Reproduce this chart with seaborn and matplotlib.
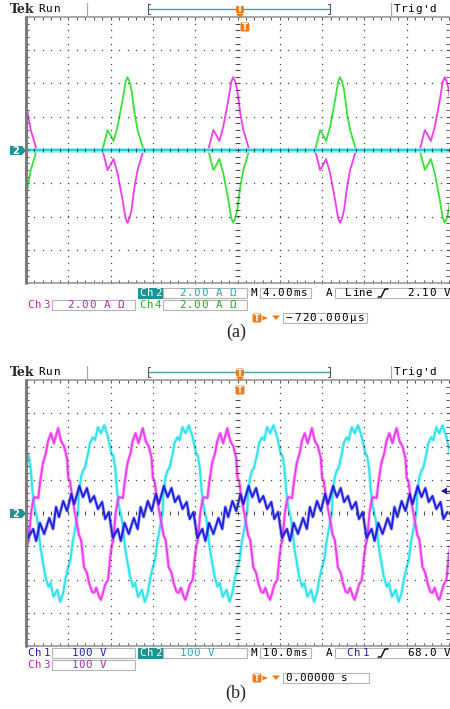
import numpy as np
import pandas as pd
import matplotlib
matplotlib.use("Agg")
import matplotlib.pyplot as plt
import seaborn as sns
from matplotlib.patches import Rectangle, Polygon, FancyBboxPatch

W, H = 450, 709

# ---------------- panel (a): 4.00 ms/div, 2.00 A/div ----------------
a_ms_div, a_amp_div = 4.0, 2.0
# one current pulse (ms from its peak, A)
pulse_dt = [-2.37, -2.08, -1.89, -1.61, -1.32, -0.95, -0.47, -0.19, 0.0, 0.19, 0.38, 0.66, 0.95, 1.32, 1.51]
pulse_amp = [0.0, 0.72, 1.2, 0.9, 0.54, 1.38, 3.0, 4.1, 4.38, 4.1, 3.6, 2.22, 1.2, 0.42, 0.0]
# peak times (ms from the left edge of the screen)
ch4_pos_peaks = [9.6, 29.7]
ch4_neg_peaks = [-0.5, 19.6, 39.6]
ch3_pos_peaks = [-0.5, 19.6, 39.6]
ch3_neg_peaks = [9.6, 29.7]
ch2_a_t = [0.0, 40.0]
ch2_a_i = [0.0, 0.0]

# ---------------- panel (b): 10.0 ms/div, 100 V/div ----------------
b_ms_div, b_volt_div = 10.0, 100.0
# one 20 ms cycle of each trace (ms from cycle start, V)
ch3_cycle_t = [0.0, 0.5, 0.9, 1.7, 2.1, 2.8, 3.5, 4.0, 4.7, 5.4, 6.4, 7.1, 7.8, 8.5, 8.8, 9.2, 9.7, 10.4,
               10.9, 11.3, 11.8, 12.3, 12.5, 13.2, 13.7, 14.4, 14.9, 15.4, 16.1, 16.5, 17.0, 17.5, 18.2, 18.7, 19.1, 19.4]
ch3_cycle_v = [0, 39, 48, 45, 90, 150, 180, 216, 240, 210, 255, 216, 201, 165, 105, 96, 48, 0,
               -36, -66, -81, -135, -162, -180, -210, -237, -240, -225, -252, -261, -240, -216, -201, -135, -96, -84]
ch3_cycle_starts = [-18.8, 1.2, 21.2, 41.2, 61.2, 81.2]

ch2_cycle_t = [0.0, 0.2, 0.7, 1.2, 1.6, 2.4, 2.8, 3.5, 4.0, 4.7, 5.4, 6.2, 7.1, 7.6, 8.0, 8.3, 8.8,
               9.2, 9.7, 10.4, 11.1, 11.6, 12.3, 13.0, 13.5, 14.2, 15.1, 15.8, 16.5, 17.0, 17.7, 18.2, 18.7, 19.4]
ch2_cycle_v = [0, 60, 108, 129, 135, 180, 210, 228, 219, 258, 240, 264, 228, 198, 174, 174, 135,
               69, 18, -21, -102, -141, -192, -222, -210, -252, -231, -267, -240, -201, -162, -141, -90, -42]
ch2_cycle_starts = [-7.7, 12.3, 32.3, 52.3, 72.3, 92.3]

ch1_cycle_t = [0.0, 1.2, 1.9, 2.8, 3.8, 5.0, 5.9, 6.6, 7.3, 8.3, 9.2, 10.2, 10.9, 12.1, 13.0, 13.9,
               14.7, 15.6, 16.5, 17.5, 18.2, 19.1]
ch1_cycle_v = [-75, -48, -84, -30, -63, -15, -48, 18, -12, 36, 6, 57, 27, 81, 48, 75, 33, 51, 12, 33, -18, 3]
ch1_cycle_starts = [-19.5, 0.5, 20.5, 40.5, 60.5, 80.5]

# ---------------- colours ----------------
C_CH1, C_CH2, C_CH3, C_CH4 = "#2020e0", "#30e4ee", "#f03cf0", "#38e238"
T_CH1, T_CH2, T_CH3, T_CH4 = "#2323a8", "#22aab4", "#b02cb0", "#2aa82a"
TEAL = "#1c9494"
ORANGE = "#f07c1c"
DOT = "#4a4a4a"
MONO = "DejaVu Sans Mono"


def pulse_train(pos_peaks, neg_peaks):
    rows = []
    for p in pos_peaks:
        rows += [(p + dt, a) for dt, a in zip(pulse_dt, pulse_amp)]
    for p in neg_peaks:
        rows += [(p + dt, -a) for dt, a in zip(pulse_dt, pulse_amp)]
    return pd.DataFrame(rows, columns=["t", "y"]).sort_values("t")


def cycle_train(cyc_t, cyc_v, starts):
    rows = [(s + t, v) for s in starts for t, v in zip(cyc_t, cyc_v)]
    return pd.DataFrame(rows, columns=["t", "y"])


def trace(ax, df, color, lw, z, alpha=1.0):
    sns.lineplot(data=df, x="t", y="y", ax=ax, color=color, linewidth=lw, estimator=None, alpha=alpha,
                 sort=False, legend=False, zorder=z, solid_joinstyle="round")


def graticule(ax, xd, yd):
    ax.set_xlim(0, 10 * xd)
    ax.set_ylim(-4 * yd, 4 * yd)
    ax.set_axis_off()
    fx = np.arange(0, 10.001, 0.2) * xd
    fy = np.arange(-4, 4.001, 0.2) * yd
    dot = dict(ls="none", marker="s", ms=0.9, mew=0, color=DOT, zorder=6, clip_on=False)
    for gx in range(1, 10):
        ax.plot(np.full_like(fy, gx * xd), fy, **dot)
    for gy in range(-3, 4):
        ax.plot(fx, np.full_like(fx, gy * yd), **dot)
    tk = dict(color=DOT, lw=0.7, zorder=6, clip_on=False)
    ax.vlines(fx, -0.06 * yd, 0.06 * yd, **tk)
    ax.hlines(fy, 4.95 * xd, 5.05 * xd, **tk)
    ax.vlines(fx, 3.9 * yd, 4 * yd, **tk)
    ax.vlines(fx, -4 * yd, -3.9 * yd, **tk)
    ax.hlines(fy, 0, 0.08 * xd, **tk)
    ax.hlines(fy, 9.93 * xd, 10 * xd, **tk)
    ax.plot([0, 10 * xd], [4 * yd, 4 * yd], color="#a0a0a0", lw=1.3, zorder=6, clip_on=False)
    ax.plot([0, 10 * xd], [-4 * yd, -4 * yd], color="#a0a0a0", lw=1.3, zorder=6, clip_on=False)
    ax.plot([0, 0], [-4 * yd, 4 * yd], color="#7c7c7c", lw=2.2, zorder=7, clip_on=False)


def px_axes(left, top, right, bottom):
    return fig.add_axes([left / W, 1 - bottom / H, (right - left) / W, (bottom - top) / H])


def scope_text(ax, x, y, s, color="black", size=7.8, cell=7.2, ha="left", z=5):
    # the scope readout font is close to fixed pitch: one cell per character
    if ha == "center":
        x -= cell * len(s) / 2
    for i, c in enumerate(s):
        if c != " ":
            ax.text(x + i * cell + cell / 2, y, c, color=color, family=MONO, fontsize=size,
                    va="center", ha="center", zorder=z)


def box(x0, x1, yc, h=10, fc="white", ec="#b4b4b4"):
    ov.add_patch(Rectangle((x0, yc - h / 2), x1 - x0, h, fc=fc, ec=ec, lw=0.8, zorder=2))


def t_icon(ax, xc, yc, s=8.5):
    ax.add_patch(FancyBboxPatch((xc - s / 2, yc - s / 2), s, s, boxstyle="round,pad=0,rounding_size=1.8",
                                fc=ORANGE, ec="none", zorder=8))
    ax.text(xc, yc + 0.5, "T", color="white", fontsize=6, fontweight="bold", ha="center", va="center", zorder=9)


def slope(x, yc):
    ov.plot([x, x + 3, x + 7, x + 10], [yc + 4, yc + 4, yc - 4, yc - 4], color="black", lw=1.0, zorder=5)


def header(dy):
    ov.text(10, 9.5 + dy, "Tek", fontsize=9, fontweight="bold", family="DejaVu Serif", va="center")
    scope_text(ov, 37, 9 + dy, "Run", size=8, cell=8.3)
    for x in (87, 391):
        ov.plot([x, x], [3 + dy, 15 + dy], color="#a8a8a8", lw=0.9)
    ov.plot([149, 329], [9 + dy, 9 + dy], color="#4f9c9c", lw=1.0)
    for x, s in ((148, 1), (330, -1)):
        ov.plot([x + 2 * s, x, x, x + 2 * s], [4 + dy, 4 + dy, 14 + dy, 14 + dy], color="#555555", lw=0.8)
    scope_text(ov, 394, 9 + dy, "Trig'd", size=8, cell=7.0)
    t_icon(top, 240, 9.5 + dy, 8)
    top.add_patch(Polygon([(236, 14 + dy), (244, 14 + dy), (240, 18.5 + dy)], fc=ORANGE, ec="none", zorder=8))


def ch_marker(y):
    top.add_patch(Polygon([(10, y - 4.5), (22, y - 4.5), (26, y), (22, y + 4.5), (10, y + 4.5)],
                          fc=TEAL, ec="none", zorder=8))
    top.text(16, y + 0.3, "2", color="white", fontsize=7, fontweight="bold", ha="center", va="center", zorder=9)


def ch2_highlight(yc):
    box(138, 163, yc, fc=TEAL, ec=TEAL)
    scope_text(ov, 150.5, yc, "Ch2", color="white", ha="center", cell=7.8)


def trigger_row(yc, s, x1, cell):
    t_icon(ov, 257, yc, 9)
    ov.annotate("", xy=(270, yc), xytext=(263, yc),
                arrowprops=dict(arrowstyle="-|>", color=ORANGE, lw=0.9, mutation_scale=5), zorder=5)
    ov.add_patch(Polygon([(272, yc - 2.5), (280, yc - 2.5), (276, yc + 2)], fc=ORANGE, ec="none", zorder=5))
    box(283, x1, yc)
    scope_text(ov, 285, yc, s, cell=cell)


sns.set_style("white")
plt.rcParams["font.family"] = ["DejaVu Sans"]

fig = plt.figure(figsize=(W / 100, H / 100), dpi=100)
ov = fig.add_axes([0, 0, 1, 1])
ov.set_xlim(0, W)
ov.set_ylim(H, 0)
ov.axis("off")

ax_a = px_axes(26, 17, 449, 283)
ax_b = px_axes(26, 380, 449, 646)

top = fig.add_axes([0, 0, 1, 1], zorder=10)
top.set_xlim(0, W)
top.set_ylim(H, 0)
top.axis("off")

# ---- panel (a) traces ----
trace(ax_a, pulse_train(ch3_pos_peaks, ch3_neg_peaks), C_CH3, 1.3, 2)
trace(ax_a, pulse_train(ch4_pos_peaks, ch4_neg_peaks), C_CH4, 1.3, 3)
ch2_a = pd.DataFrame({"t": ch2_a_t, "y": ch2_a_i})
trace(ax_a, ch2_a, "#a6f2f6", 3.4, 4)
trace(ax_a, ch2_a, "#1ed6e4", 1.6, 4)
graticule(ax_a, a_ms_div, a_amp_div)

# ---- panel (b) traces (soft halo + core, like the blurred scope capture) ----
b_traces = [
    (cycle_train(ch2_cycle_t, ch2_cycle_v, ch2_cycle_starts), C_CH2, 2),
    (cycle_train(ch3_cycle_t, ch3_cycle_v, ch3_cycle_starts), C_CH3, 3),
    (cycle_train(ch1_cycle_t, ch1_cycle_v, ch1_cycle_starts), C_CH1, 4),
]
for df, col, z in b_traces:
    trace(ax_b, df, col, 2.6, z, alpha=0.3)
    trace(ax_b, df, col, 1.4, z)
graticule(ax_b, b_ms_div, b_volt_div)

# ---- screen furniture ----
header(0)
header(363)
t_icon(top, 245, 27, 9)
t_icon(top, 240, 390, 9)
ch_marker(150.5)
ch_marker(513.5)
top.add_patch(Polygon([(441, 491), (447, 487.5), (447, 494.5)], fc="#1a1a8c", ec="none", zorder=8))
top.plot([447, 450], [491, 491], color="#1a1a8c", lw=1.0, zorder=8)

# panel (a) readout
ch2_highlight(293)
box(163, 247, 293)
scope_text(ov, 179, 293, "2.00 A Ω", color=T_CH2)
scope_text(ov, 249, 293, "M", cell=9)
box(260, 311, 293)
scope_text(ov, 262, 293, "4.00ms", cell=7.6)
scope_text(ov, 325, 293, "A", cell=8)
box(335, 452, 293)
scope_text(ov, 345, 293, "Line", cell=6.8)
slope(378, 293)
scope_text(ov, 407, 293, "2.10 V", cell=7.3)
scope_text(ov, 26, 305, "Ch3", color=T_CH3, cell=8.2)
box(52, 135, 305)
scope_text(ov, 67, 305, "2.00 A Ω", color=T_CH3)
scope_text(ov, 138, 305, "Ch4", color=T_CH4, cell=8.0)
box(163, 247, 305)
scope_text(ov, 179, 305, "2.00 A Ω", color=T_CH4)
trigger_row(318, "−720.000µs", 367, 8.0)
ov.text(236, 332, "(a)", fontsize=13, family="Liberation Serif", ha="center", va="center")

# panel (b) readout
scope_text(ov, 26, 653, "Ch1", color=T_CH1, cell=8.2)
box(52, 135, 653)
scope_text(ov, 71, 653, "100 V", color=T_CH1)
ch2_highlight(653)
box(163, 247, 653)
scope_text(ov, 179, 653, "100 V", color=T_CH2)
scope_text(ov, 249, 653, "M", cell=9)
box(260, 311, 653)
scope_text(ov, 262, 653, "10.0ms", cell=7.6)
scope_text(ov, 325, 653, "A", cell=8)
box(335, 452, 653)
scope_text(ov, 345, 653, "Ch1", color=T_CH1, cell=8.2)
slope(378, 653)
scope_text(ov, 407, 653, "68.0 V", cell=7.3)
scope_text(ov, 26, 665, "Ch3", color=T_CH3, cell=8.2)
box(52, 135, 665)
scope_text(ov, 71, 665, "100 V", color=T_CH3)
trigger_row(678, "0.00000 s", 369, 7.0)
ov.text(236, 693, "(b)", fontsize=13, family="Liberation Serif", ha="center", va="center")

fig.savefig("out.png", dpi=100, facecolor="white")
